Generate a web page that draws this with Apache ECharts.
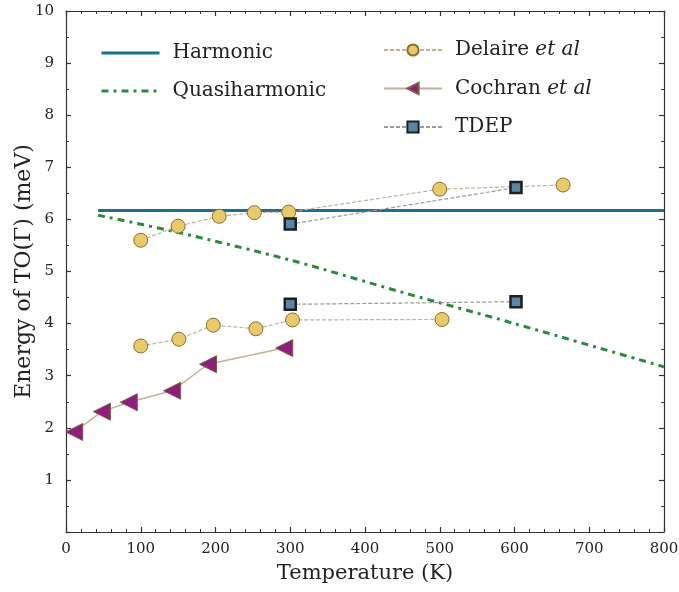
<!DOCTYPE html>
<html>
<head>
<meta charset="utf-8">
<script src="https://cdn.jsdelivr.net/npm/echarts@6/dist/echarts.min.js"></script>
<style>html,body{margin:0;padding:0;background:#fff}#c{width:679px;height:592px}</style>
</head>
<body>
<div id="c"></div>
<script>
var xTicks = [0, 100, 200, 300, 400, 500, 600, 700, 800];
var yTicks = [0, 1, 2, 3, 4, 5, 6, 7, 8, 9, 10];

var harmonic = [[43, 6.17], [800, 6.17]];
var quasiharmonic = [[43, 6.08], [150, 5.75], [300, 5.22], [450, 4.6], [600, 4.0], [800, 3.17]];
var delaireUpper = [[100, 5.6], [150, 5.87], [205, 6.06], [252, 6.13], [298, 6.14], [500, 6.58], [665, 6.66]];
var delaireLower = [[100, 3.57], [151, 3.7], [197, 3.97], [254, 3.9], [303, 4.07], [503, 4.08]];
var cochran = [[11, 1.92], [48, 2.31], [84, 2.49], [142, 2.71], [190, 3.22], [292, 3.53]];
var tdepUpper = [[300, 5.91], [602, 6.61]];
var tdepLower = [[300, 4.37], [602, 4.42]];

var FONT = 'DejaVu Serif';
var chart = echarts.init(document.getElementById('c'));

function axisCommon(show) {
  return {
    axisLine: {show: true, onZero: false, lineStyle: {color: '#333', width: 1.2}},
    axisTick: {show: true, inside: true, length: 5, lineStyle: {color: '#333', width: 1.2}},
    minorTick: {show: true, length: 3, lineStyle: {color: '#333', width: 1}},
    splitLine: {show: false},
    axisLabel: {show: show, color: '#222', fontFamily: FONT, fontSize: 15}
  };
}

var xb = Object.assign(axisCommon(true), {type: 'value', position: 'bottom', min: 0, max: 800, interval: 100,
  name: 'Temperature (K)', nameLocation: 'middle', nameGap: 31, nameMoveOverlap: false,
  nameTextStyle: {color: '#222', fontFamily: FONT, fontSize: 21}});
xb.minorTick.splitNumber = 5;
xb.axisLabel.margin = 10;
var xt = Object.assign(axisCommon(false), {type: 'value', position: 'top', min: 0, max: 800, interval: 100});
xt.minorTick.splitNumber = 5;
var yl = Object.assign(axisCommon(true), {type: 'value', position: 'left', min: 0, max: 10, interval: 1,
  name: 'Energy of TO(Γ) (meV)', nameLocation: 'middle', nameGap: 31, nameMoveOverlap: false,
  nameTextStyle: {color: '#222', fontFamily: FONT, fontSize: 22}});
yl.minorTick.splitNumber = 2;
yl.axisLabel.margin = 12;
yl.axisLabel.formatter = function (v) { return v === 0 ? '' : v; };
var yr = Object.assign(axisCommon(false), {type: 'value', position: 'right', min: 0, max: 10, interval: 1});
yr.minorTick.splitNumber = 2;

var legendText = {color: '#222', fontFamily: FONT, fontSize: 20, padding: [0, 0, 0, 8],
  rich: {i: {fontStyle: 'italic', fontFamily: FONT, fontSize: 20, color: '#222'}}};

var option = {
  animation: false,
  backgroundColor: '#fff',
  grid: {left: 66, right: 15, top: 11, bottom: 60, outerBoundsMode: 'none', containLabel: false},
  xAxis: [xb, xt],
  yAxis: [yl, yr],
  legend: [
    {orient: 'vertical', left: 95, top: 38, itemWidth: 58, itemHeight: 14, itemGap: 18,
      data: [{name: 'Harmonic', itemStyle: {opacity: 0}, lineStyle: {width: 3}},
             {name: 'Quasiharmonic', itemStyle: {opacity: 0}, lineStyle: {width: 3}}],
      textStyle: legendText, selectedMode: false},
    {orient: 'vertical', left: 378, top: 35, itemWidth: 58, itemHeight: 14, itemGap: 18.5,
      data: ['Delaire et al', 'Cochran et al', 'TDEP'], textStyle: legendText, selectedMode: false,
      formatter: function (n) { return n.replace(' et al', ' {i|et al}'); }}
  ],
  series: [
    {name: 'Harmonic', type: 'line', data: harmonic, showSymbol: false, symbol: 'none',
      lineStyle: {color: '#1f6f93', width: 3}, itemStyle: {color: '#1f6f93'}, z: 3},
    {name: 'Quasiharmonic', type: 'line', data: quasiharmonic, showSymbol: false, symbol: 'none', smooth: 0.3,
      lineStyle: {color: '#2b8a3e', width: 3, type: [7, 5, 3, 5]}, itemStyle: {color: '#2b8a3e'}, z: 3},
    {name: 'Delaire et al', type: 'line', data: delaireUpper, symbol: 'circle', symbolSize: 14,
      lineStyle: {color: '#c2b29a', width: 1.2, type: [4, 2]},
      itemStyle: {color: '#e8ca6c', borderColor: '#8a6e2c', borderWidth: 1}, z: 4},
    {name: 'Delaire et al', type: 'line', data: delaireLower, symbol: 'circle', symbolSize: 14,
      lineStyle: {color: '#c2b29a', width: 1.2, type: [4, 2]},
      itemStyle: {color: '#e8ca6c', borderColor: '#8a6e2c', borderWidth: 1}, z: 4},
    {name: 'Cochran et al', type: 'line', data: cochran, symbol: 'triangle', symbolSize: 17, symbolRotate: 90,
      lineStyle: {color: '#c2b29a', width: 1.5},
      itemStyle: {color: '#8e1d7f', borderColor: '#7a6040', borderWidth: 1}, z: 4},
    {name: 'TDEP', type: 'line', data: tdepUpper, symbol: 'rect', symbolSize: 11,
      lineStyle: {color: '#9a9a9a', width: 1.2, type: [4, 2]},
      itemStyle: {color: '#5a85a5', borderColor: '#1e1e1e', borderWidth: 2.5}, z: 5},
    {name: 'TDEP', type: 'line', data: tdepLower, symbol: 'rect', symbolSize: 11,
      lineStyle: {color: '#9a9a9a', width: 1.2, type: [4, 2]},
      itemStyle: {color: '#5a85a5', borderColor: '#1e1e1e', borderWidth: 2.5}, z: 5}
  ]
};
chart.setOption(option);
</script>
</body>
</html>
